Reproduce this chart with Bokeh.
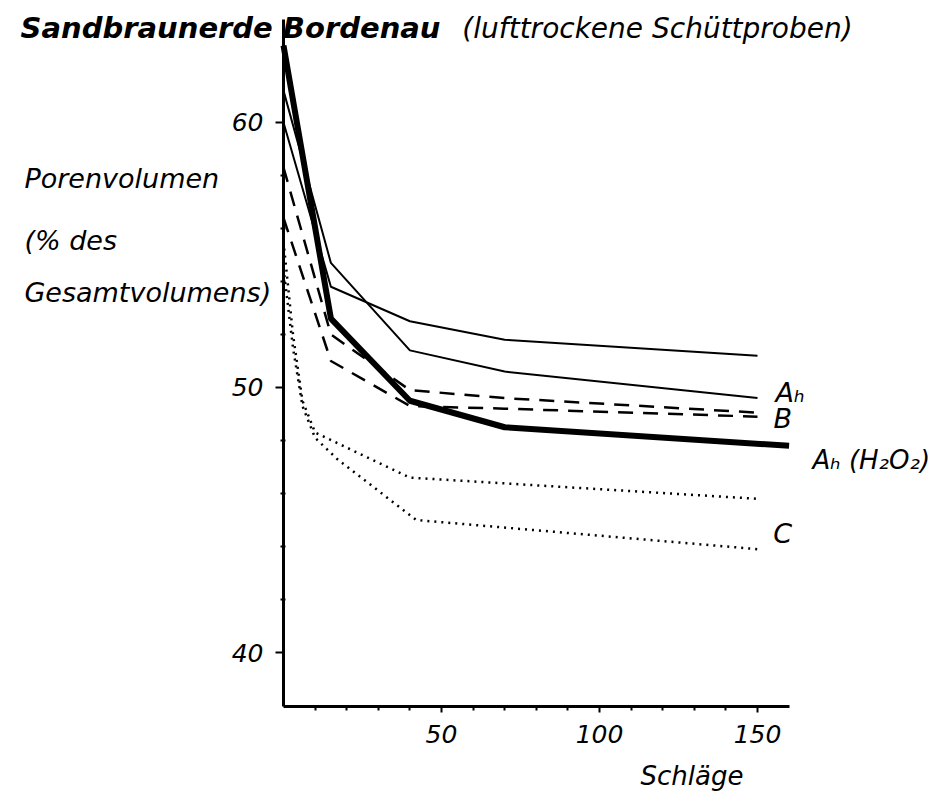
from bokeh.plotting import figure
from bokeh.models import Range1d, FixedTicker, Label
from bokeh.embed import file_html
from bokeh.resources import INLINE

# ---- data ----
x_main = [0, 15, 40, 70, 150]
ah_upper = [60.0, 53.8, 52.5, 51.8, 51.2]
ah_lower = [61.2, 54.7, 51.4, 50.6, 49.6]
x_h2o2 = [0, 15, 40, 70, 160]
ah_h2o2 = [62.9, 52.6, 49.5, 48.5, 47.8]
b_upper = [58.3, 52.0, 49.9, 49.6, 49.05]
b_lower = [56.4, 51.0, 49.3, 49.2, 48.9]
x_c_upper = [0, 3, 6, 10, 40, 150]
c_upper = [55.5, 52.0, 49.5, 48.3, 46.6, 45.8]
x_c_lower = [0, 3, 6, 10, 17, 42, 150]
c_lower = [54.5, 51.5, 49.3, 48.1, 47.3, 45.0, 43.9]

y_major = [40, 50, 60]
y_minor = [42, 44, 46, 48, 52, 54, 56, 58]
x_major = [50, 100, 150]
x_minor = [10, 20, 30, 40, 60, 70, 80, 90, 110, 120, 130, 140]

FONT = "DejaVu Sans"
Y_BOTTOM = 37.96

p = figure(width=936, height=792, output_backend="svg", toolbar_location=None,
           x_range=Range1d(-89.56, 206.65), y_range=Range1d(34.72, 64.60),
           min_border_left=0, min_border_right=0, min_border_top=0, min_border_bottom=0)
p.outline_line_color = None
p.xgrid.visible = False
p.ygrid.visible = False
p.background_fill_color = "white"
p.border_fill_color = "white"

# axes (placed inside the frame at the data origin)
xa = p.xaxis[0]
xa.fixed_location = Y_BOTTOM
xa.bounds = (0, 160)
xa.ticker = FixedTicker(ticks=x_major, minor_ticks=x_minor)
xa.axis_line_width = 3
xa.axis_line_color = "black"
xa.major_tick_out = 6
xa.major_tick_in = 0
xa.minor_tick_out = 4
xa.minor_tick_in = 0
xa.major_tick_line_width = 2
xa.minor_tick_line_width = 2
xa.major_label_text_font = FONT
xa.major_label_text_font_style = "italic"
xa.major_label_text_font_size = "25px"
xa.major_label_text_color = "black"
xa.major_label_standoff = 12

ya = p.yaxis[0]
ya.fixed_location = 0
ya.bounds = (Y_BOTTOM, 63.9)
ya.ticker = FixedTicker(ticks=y_major, minor_ticks=y_minor)
ya.axis_line_width = 3
ya.axis_line_color = "black"
ya.major_tick_out = 8
ya.major_tick_in = 0
ya.minor_tick_out = 3
ya.minor_tick_in = 2
ya.major_tick_line_width = 2
ya.minor_tick_line_width = 2
ya.major_label_text_font = FONT
ya.major_label_text_font_style = "italic"
ya.major_label_text_font_size = "25px"
ya.major_label_text_color = "black"
ya.major_label_standoff = 12

# curves
p.line(x_main, ah_upper, line_color="black", line_width=2)
p.line(x_main, ah_lower, line_color="black", line_width=2)
p.line(x_h2o2, ah_h2o2, line_color="black", line_width=6, line_join="round")
p.line(x_main, b_upper, line_color="black", line_width=2.5, line_dash="15 10")
p.line(x_main, b_lower, line_color="black", line_width=2.5, line_dash="15 10")
p.line(x_c_upper, c_upper, line_color="black", line_width=2.5, line_dash="2 5")
p.line(x_c_lower, c_lower, line_color="black", line_width=2.5, line_dash="2 5")

def lab(x, y, text, size, style="italic", align="left", baseline="alphabetic"):
    p.add_layout(Label(x=x, y=y, text=text, text_font=FONT, text_font_style=style,
                       text_font_size=size, text_color="black",
                       text_align=align, text_baseline=baseline))

# series labels
lab(155.7, 49.81, "Aₕ", "27px")
lab(155.1, 48.83, "B", "27px")
lab(167.4, 47.28, "Aₕ (H₂O₂)", "26px")
lab(155.0, 44.49, "C", "27px")

# axis titles
lab(-82.0, 57.89, "Porenvolumen", "27px")
lab(-82.0, 55.55, "(% des", "27px")
lab(-82.0, 53.58, "Gesamtvolumens)", "27px")
lab(113.0, 35.36, "Schläge", "26px")

# title
lab(-83.2, 63.55, "Sandbraunerde Bordenau", "29px", style="bold italic")
lab(56.6, 63.55, "(lufttrockene Schüttproben)", "28px")

open("out.html", "w").write(file_html(p, INLINE))
